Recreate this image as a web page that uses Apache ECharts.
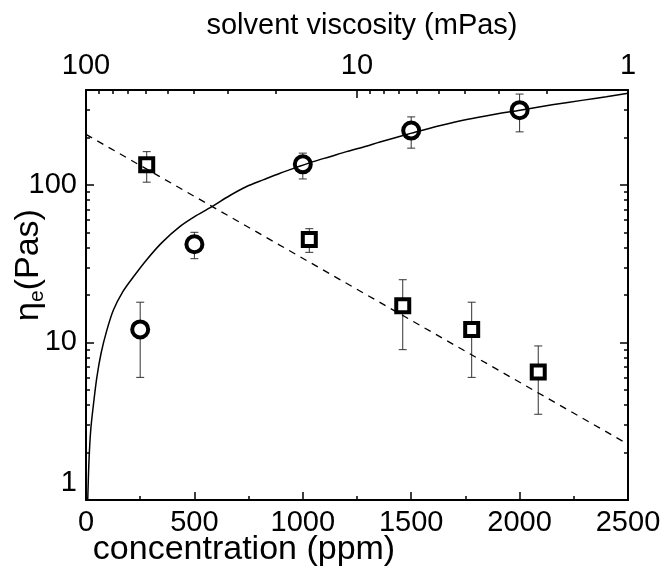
<!DOCTYPE html>
<html>
<head>
<meta charset="utf-8">
<script src="https://cdn.jsdelivr.net/npm/echarts@6/dist/echarts.min.js"></script>
<style>html,body{margin:0;padding:0;background:#fff}#c{width:664px;height:575px}</style>
</head>
<body>
<div id="c"></div>
<script>
// ---- data ----
// circles: effective viscosity vs concentration
const circX = [250, 500, 1000, 1500, 2000];
const circY = [12.1, 42, 135, 221, 298];
const circLo = [6.0, 34, 109, 171, 217];
const circHi = [18, 50, 159, 270, 377];
// squares
const sqX = [280, 1030, 1461, 1779, 2086];
const sqY = [134, 45, 17.1, 12.1, 6.5];
const sqLo = [104, 37.3, 9.0, 6.0, 3.5];
const sqHi = [162.5, 52.7, 25, 18, 9.5];
// solid fit curve
const curveX = [8, 14, 22, 34, 50, 70, 95, 126, 170, 218, 280, 350, 434, 510, 587, 660, 741, 820, 895, 970, 1048, 1125, 1202, 1280, 1356, 1430, 1502, 1630, 1756, 1880, 2002, 2150, 2294, 2400, 2500];
const curveY = [1.0, 1.8, 2.8, 4.0, 6.0, 8.6, 11.8, 16, 21, 26, 33.5, 43, 54.5, 64, 73.6, 85, 97.6, 108, 118.6, 129, 140.5, 151, 162.5, 174, 187, 200, 213, 237, 260, 280, 298, 322, 345, 362, 381];
// dashed fit line (end points)
const dashX = [0, 2500];
const dashY = [209, 2.26];
// ticks
const yMajor = [1, 10, 100];
const yMinor = [2, 3, 4, 5, 6, 7, 8, 9, 20, 30, 40, 50, 60, 70, 80, 90, 200, 300];
const topMinor = [2, 3, 4, 5, 6, 7, 8, 9, 20, 30, 40, 50, 60, 70, 80, 90];

const FF = "'Liberation Sans', Arial, sans-serif";
const BLACK = '#000';
const chart = echarts.init(document.getElementById('c'), null, {renderer: 'canvas'});

function pairs(xs, ys) { return xs.map((x, i) => [x, ys[i]]); }
function errData(xs, lo, hi) { return xs.map((x, i) => [x, lo[i], hi[i]]); }

function errRender(params, api) {
  const x = api.value(0), lo = api.value(1), hi = api.value(2);
  const pLo = api.coord([x, lo]);
  const pHi = api.coord([x, hi]);
  const cap = 4;
  const st = {stroke: '#333', lineWidth: 1};
  return {
    type: 'group',
    children: [
      {type: 'line', shape: {x1: pLo[0], y1: pLo[1], x2: pHi[0], y2: pHi[1]}, style: st},
      {type: 'line', shape: {x1: pLo[0] - cap, y1: pLo[1], x2: pLo[0] + cap, y2: pLo[1]}, style: st},
      {type: 'line', shape: {x1: pHi[0] - cap, y1: pHi[1], x2: pHi[0] + cap, y2: pHi[1]}, style: st}
    ]
  };
}

const lbl = {color: BLACK, fontSize: 29, fontFamily: FF};
const logY = {type: 'log', logBase: 10, min: 1, max: 400, splitLine: {show: false}, nameMoveOverlap: false};
const logTop = {type: 'log', logBase: 10, min: 1, max: 100, inverse: true, position: 'top', splitLine: {show: false}, nameMoveOverlap: false};

const option = {
  animation: false,
  backgroundColor: '#fff',
  grid: {left: 86, right: 36, top: 90, bottom: 75, containLabel: false, outerBoundsMode: 'none'},
  xAxis: [
    {
      type: 'value', position: 'bottom', min: 0, max: 2500, interval: 500, nameMoveOverlap: false,
      axisLine: {show: true, onZero: false, lineStyle: {color: BLACK, width: 2}},
      axisTick: {show: true, inside: true, length: 8, lineStyle: {color: BLACK, width: 1.5}},
      minorTick: {show: true, splitNumber: 2, length: 4, lineStyle: {color: BLACK, width: 1.5}},
      axisLabel: Object.assign({margin: 8, formatter: function (v) { return String(v); }}, lbl),
      splitLine: {show: false}, minorSplitLine: {show: false},
      name: 'concentration (ppm)', nameLocation: 'middle', nameGap: 33,
      nameTextStyle: {color: BLACK, fontSize: 34, fontFamily: FF, padding: [0, 226, 0, 0]}
    },
    Object.assign({}, logTop, {
      axisLine: {show: true, onZero: false, lineStyle: {color: BLACK, width: 2}},
      axisTick: {show: true, inside: true, length: 8, lineStyle: {color: BLACK, width: 1.5}},
      axisLabel: Object.assign({margin: 10, formatter: function (v) { return String(v); }}, lbl),
      name: 'solvent viscosity (mPas)', nameLocation: 'middle', nameGap: 50,
      nameTextStyle: {color: BLACK, fontSize: 29, fontFamily: FF, padding: [0, 0, 0, 10]}
    }),
    Object.assign({}, logTop, {
      axisLine: {show: false, onZero: false},
      axisTick: {show: true, inside: true, length: 4, customValues: topMinor, lineStyle: {color: BLACK, width: 1.5}},
      axisLabel: {show: false}
    })
  ],
  yAxis: [
    Object.assign({}, logY, {
      position: 'left',
      axisLine: {show: true, onZero: false, lineStyle: {color: BLACK, width: 2}},
      axisTick: {show: true, inside: true, length: 8, customValues: yMajor, lineStyle: {color: BLACK, width: 1.5}},
      axisLabel: Object.assign({margin: 9, customValues: yMajor,
        formatter: function (v) { return v === 1 ? '{s|1}' : String(v); },
        rich: {s: {color: BLACK, fontSize: 29, fontFamily: FF, padding: [0, 0, 34, 0]}}}, lbl),
      name: '{a|η}{s|e}{a|(Pas)}', nameLocation: 'middle', nameGap: 38, nameRotate: 90,
      nameTextStyle: {
        color: BLACK, fontFamily: FF, padding: [0, 0, 0, 60],
        rich: {
          a: {color: BLACK, fontSize: 34, fontFamily: FF, lineHeight: 38, verticalAlign: 'middle'},
          s: {color: BLACK, fontSize: 21, fontFamily: FF, lineHeight: 21, verticalAlign: 'bottom'}
        }
      }
    }),
    Object.assign({}, logY, {
      position: 'left',
      axisLine: {show: false, onZero: false},
      axisTick: {show: true, inside: true, length: 4, customValues: yMinor, lineStyle: {color: BLACK, width: 1.5}},
      axisLabel: {show: false}
    }),
    Object.assign({}, logY, {
      position: 'right',
      axisLine: {show: true, onZero: false, lineStyle: {color: BLACK, width: 2}},
      axisTick: {show: true, inside: true, length: 8, customValues: yMajor, lineStyle: {color: BLACK, width: 1.5}},
      axisLabel: {show: false}
    }),
    Object.assign({}, logY, {
      position: 'right',
      axisLine: {show: false, onZero: false},
      axisTick: {show: true, inside: true, length: 4, customValues: yMinor, lineStyle: {color: BLACK, width: 1.5}},
      axisLabel: {show: false}
    })
  ],
  series: [
    {type: 'custom', name: 'errC', xAxisIndex: 0, yAxisIndex: 0, renderItem: errRender, data: errData(circX, circLo, circHi), clip: true, z: 2},
    {type: 'custom', name: 'errS', xAxisIndex: 0, yAxisIndex: 0, renderItem: errRender, data: errData(sqX, sqLo, sqHi), clip: true, z: 2},
    {type: 'scatter', name: 'circles', xAxisIndex: 0, yAxisIndex: 0, symbol: 'circle', symbolSize: 16,
      itemStyle: {color: '#fff', borderColor: BLACK, borderWidth: 4, opacity: 1}, data: pairs(circX, circY), z: 3},
    {type: 'scatter', name: 'squares', xAxisIndex: 0, yAxisIndex: 0, symbol: 'rect', symbolSize: 13,
      itemStyle: {color: '#fff', borderColor: BLACK, borderWidth: 4, opacity: 1}, data: pairs(sqX, sqY), z: 3},
    {type: 'line', name: 'fit', xAxisIndex: 0, yAxisIndex: 0, showSymbol: false, symbol: 'none', smooth: 0.3,
      lineStyle: {color: BLACK, width: 1.5}, data: pairs(curveX, curveY), clip: true, z: 4},
    {type: 'line', name: 'fit2', xAxisIndex: 0, yAxisIndex: 0, showSymbol: false, symbol: 'none',
      lineStyle: {color: BLACK, width: 1.3, type: [7, 6]}, data: pairs(dashX, dashY), clip: true, z: 4}
  ]
};
chart.setOption(option);
</script>
</body>
</html>
